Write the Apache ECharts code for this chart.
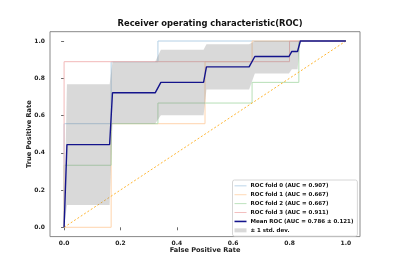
<!DOCTYPE html>
<html>
<head>
<meta charset="utf-8">
<script src="https://cdn.jsdelivr.net/npm/echarts@6/dist/echarts.min.js"></script>
<style>html,body{margin:0;padding:0;background:#fff}#c{width:400px;height:266px}</style>
</head>
<body>
<div id="c"></div>
<script>
const titleText = 'Receiver operating characteristic(ROC)';
const xName = 'False Positive Rate';
const yName = 'True Positive Rate';
const tickValues = [0, 0.2, 0.4, 0.6, 0.8, 1.0];

const foldNames = ['ROC fold 0 (AUC = 0.907)', 'ROC fold 1 (AUC = 0.667)', 'ROC fold 2 (AUC = 0.667)', 'ROC fold 3 (AUC = 0.911)'];
const foldColors = ['#b4d0e6', '#ffd4ac', '#b6dfb6', '#f2b8b8'];
const fold0Fpr = [0, 0, 0.167, 0.167, 0.333, 0.333, 1];
const fold0Tpr = [0, 0.556, 0.556, 0.889, 0.889, 1, 1];
const fold1Fpr = [0, 0.167, 0.167, 0.5, 0.5, 0.667, 0.667, 1];
const fold1Tpr = [0, 0, 0.556, 0.556, 0.889, 0.889, 1, 1];
const fold2Fpr = [0, 0, 0.167, 0.167, 0.333, 0.333, 0.667, 0.667, 0.833, 0.833, 1];
const fold2Tpr = [0, 0.333, 0.333, 0.556, 0.556, 0.667, 0.667, 0.778, 0.778, 1, 1];
const fold3Fpr = [0, 0, 0.8, 0.8, 1];
const fold3Tpr = [0, 0.889, 0.889, 1, 1];

const chanceX = [0, 1];
const chanceY = [0, 1];

const meanName = 'Mean ROC (AUC = 0.786 \u00b1 0.121)';
const meanFpr = [0, 0.0101, 0.1616, 0.1717, 0.3232, 0.3434, 0.4949, 0.5051, 0.6566, 0.6768, 0.798, 0.8081, 0.8283, 0.8384, 1];
const meanTpr = [0, 0.444, 0.444, 0.722, 0.722, 0.778, 0.778, 0.861, 0.861, 0.917, 0.917, 0.944, 0.944, 1, 1];
const stdName = '\u00b1 1 std. dev.';
const stdLower = [0, 0.12, 0.12, 0.556, 0.556, 0.602, 0.602, 0.740, 0.740, 0.825, 0.825, 0.848, 0.848, 1, 1];
const stdUpper = [0, 0.768, 0.768, 0.889, 0.889, 0.953, 0.953, 0.982, 0.982, 1, 1, 1, 1, 1, 1];

const foldFpr = [fold0Fpr, fold1Fpr, fold2Fpr, fold3Fpr];
const foldTpr = [fold0Tpr, fold1Tpr, fold2Tpr, fold3Tpr];
const pairs = (xs, ys) => xs.map((x, i) => [x, ys[i]]);

const FONT = 'DejaVu Sans';
const series = [];
foldNames.forEach((n, i) => {
  series.push({
    name: n, type: 'line', data: pairs(foldFpr[i], foldTpr[i]),
    symbol: 'none', color: foldColors[i],
    lineStyle: { width: 1, color: foldColors[i] }, z: 2, silent: true
  });
});
series.push({
  name: 'chance', type: 'line', data: pairs(chanceX, chanceY), symbol: 'none',
  lineStyle: { width: 1, color: '#ffb733', type: [2, 2] }, z: 3, silent: true
});
// ± 1 std band as polygon through the axis scales
series.push({
  name: stdName, type: 'custom', z: 4, silent: true,
  color: '#d9d9d9', itemStyle: { color: '#d9d9d9' },
  data: meanFpr.map((x, i) => [x, stdLower[i], stdUpper[i]]),
  encode: { x: 0, y: [1, 2] },
  renderItem: function (params, api) {
    if (params.dataIndex !== 0) return null;
    const pts = [];
    for (let i = 0; i < meanFpr.length; i++) pts.push(api.coord([meanFpr[i], stdUpper[i]]));
    for (let i = meanFpr.length - 1; i >= 0; i--) pts.push(api.coord([meanFpr[i], stdLower[i]]));
    return { type: 'polygon', shape: { points: pts }, style: { fill: 'rgba(128,128,128,0.3)' } };
  }
});
series.push({
  name: meanName, type: 'line', data: pairs(meanFpr, meanTpr), symbol: 'none',
  color: '#14148c', lineStyle: { width: 1.4, color: '#14148c' }, z: 6, silent: true
});

const axisCommon = {
  type: 'value', min: -0.05, max: 1.05,
  axisLine: { show: false },
  splitLine: { show: false },
  axisTick: { show: true, length: 3, inside: false, customValues: tickValues, lineStyle: { color: '#444', width: 0.8 } },
  axisLabel: { customValues: tickValues, formatter: v => v.toFixed(1), fontFamily: FONT, fontWeight: 'bold', fontSize: 6, color: '#222' },
  nameLocation: 'middle',
  nameMoveOverlap: false,
  nameTextStyle: { fontFamily: FONT, fontWeight: 'bold', fontSize: 6.6, color: '#222' }
};

const lineIcon = 'path://M0,0H20V1.5H0Z';
const meanIcon = 'path://M0,0H20V2.6H0Z';

const chart = echarts.init(document.getElementById('c'), null, { renderer: 'canvas' });
chart.setOption({
  animation: false,
  backgroundColor: '#fff',
  title: {
    text: titleText, left: 205, textAlign: 'center', top: 15,
    textStyle: { fontFamily: FONT, fontWeight: 'bold', fontSize: 8.4, color: '#111' }
  },
  grid: { left: 50, right: 40, top: 31.7, bottom: 29.4, show: true, borderColor: '#888', borderWidth: 1, backgroundColor: 'transparent' },
  xAxis: Object.assign({}, axisCommon, { name: xName, nameGap: 10.5, axisLabel: Object.assign({}, axisCommon.axisLabel, { margin: 4 }) }),
  yAxis: Object.assign({}, axisCommon, { name: yName, nameGap: 17.5, axisLabel: Object.assign({}, axisCommon.axisLabel, { margin: 5 }) }),
  legend: {
    data: [
      { name: foldNames[0], icon: lineIcon }, { name: foldNames[1], icon: lineIcon },
      { name: foldNames[2], icon: lineIcon }, { name: foldNames[3], icon: lineIcon },
      { name: meanName, icon: meanIcon }, { name: stdName, icon: 'rect' }
    ],
    orient: 'vertical', left: 232.5, top: 180, width: 125,
    itemWidth: 12, itemHeight: 4, itemGap: 2.2,
    padding: [2.5, 4, 2.5, 2],
    borderColor: '#cccccc', borderWidth: 0.8, borderRadius: 2, backgroundColor: '#fff',
    textStyle: { fontFamily: FONT, fontWeight: 'bold', fontSize: 5.5, color: '#111', lineHeight: 6.7, padding: [0, 0, 0, -1] }
  },
  series: series
});
</script>
</body>
</html>
